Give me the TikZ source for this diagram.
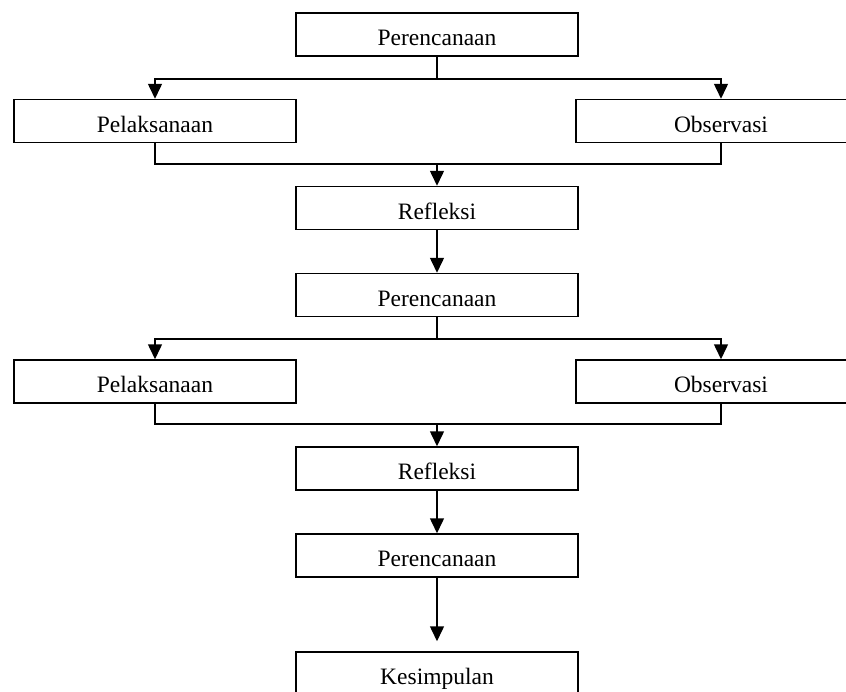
\documentclass[tikz,border=0pt]{standalone}
\usepackage{fontspec}
\setmainfont{Liberation Serif}
\usetikzlibrary{arrows.meta}
\begin{document}
\begin{tikzpicture}[x=1pt,y={(0pt,-1pt)},
  box/.style={draw,line width=1.5pt,minimum width=282pt,minimum height=43pt,inner sep=0pt,
    font=\fontsize{23.5pt}{26pt}\selectfont,text height=22pt,text depth=0pt},
  conn/.style={line width=1.5pt},
  arr/.style={conn,-{Triangle[width=14pt,length=15pt]}}]
\clip (0,0) rectangle (846,691);
\fill[white] (0,0) rectangle (846,691);
% nodes
\node[box] (P1) at (437,34.5) {Perencanaan};
\node[box] (L1) at (155,121) {Pelaksanaan};
\node[box,minimum width=290pt] (O1) at (721,121) {Observasi};
\node[box] (R1) at (437,208) {Refleksi};
\node[box] (P2) at (437,295) {Perencanaan};
\node[box] (L2) at (155,381.5) {Pelaksanaan};
\node[box,minimum width=290pt] (O2) at (721,381.5) {Observasi};
\node[box] (R2) at (437,468.5) {Refleksi};
\node[box] (P3) at (437,555.5) {Perencanaan};
\node[box] (K) at (437,673.5) {Kesimpulan};
% junction points
\coordinate (s1) at (437,79);
\coordinate (j1) at (437,164);
\coordinate (s2) at (437,339);
\coordinate (j2) at (437,424);
% connectors
\draw[conn] (P1.south) -- (s1);
\draw[arr] (s1) -| (L1.north);
\draw[arr] (s1) -| (O1.north);
\draw[conn] (L1.south) |- (j1) -| (O1.south);
\draw[arr] (j1) -- (R1.north);
\draw[arr] (R1.south) -- (P2.north);
\draw[conn] (P2.south) -- (s2);
\draw[arr] (s2) -| (L2.north);
\draw[arr] (s2) -| (O2.north);
\draw[conn] (L2.south) |- (j2) -| (O2.south);
\draw[arr] (j2) -- (R2.north);
\draw[arr] (R2.south) -- (P3.north);
\draw[arr,shorten >=10pt] (P3.south) -- (K.north);
\end{tikzpicture}
\end{document}
